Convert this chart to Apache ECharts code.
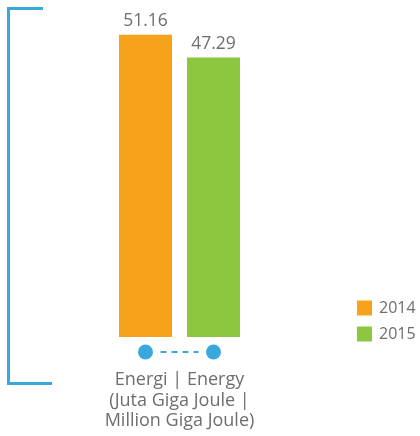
<!DOCTYPE html>
<html>
<head>
<meta charset="utf-8">
<script src="https://cdn.jsdelivr.net/npm/echarts@6/dist/echarts.min.js"></script>
<style>
  html, body { margin: 0; padding: 0; background: #ffffff; }
  #chart { width: 420px; height: 436px; }
</style>
</head>
<body>
<div id="chart"></div>
<script>
// Energy consumption, two reporting years
const categories = ['Energi | Energy\n(Juta Giga Joule |\nMillion Giga Joule)'];
const years = ['2014', '2015'];
const values2014 = [51.16];
const values2015 = [47.29];

const COLORS = ['#F7A21B', '#8DC63F'];
const ACCENT = '#39A9DC';
const TEXT = '#6d6e71';
const FONT = '"Open Sans", "Noto Sans", sans-serif';
const BAR_W = 53;

const chart = echarts.init(document.getElementById('chart'), null, { renderer: 'canvas' });

const labelStyle = {
  show: true,
  position: 'top',
  distance: 5,
  color: TEXT,
  fontSize: 17.5,
  fontFamily: FONT,
  formatter: p => p.value.toFixed(2)
};

chart.setOption({
  animation: false,
  textStyle: { fontFamily: FONT },
  grid: { left: 100, right: 161, top: 12, bottom: 99 },
  legend: {
    orient: 'vertical',
    left: 352,
    top: 295,
    itemWidth: 15,
    itemHeight: 15,
    itemGap: 10,
    icon: 'rect',
    textStyle: { color: TEXT, fontSize: 16, fontFamily: FONT, padding: [0, 0, 0, 2] },
    data: years
  },
  xAxis: {
    type: 'category',
    data: categories,
    axisLine: { show: false },
    axisTick: { show: false },
    axisLabel: {
      color: TEXT,
      fontSize: 18,
      lineHeight: 20.5,
      margin: 33,
      fontFamily: FONT
    }
  },
  yAxis: {
    type: 'value',
    min: 0,
    max: 55,
    show: false,
    splitLine: { show: false }
  },
  series: [
    {
      name: years[0],
      type: 'bar',
      data: values2014,
      barWidth: BAR_W,
      barGap: '28.3%',
      itemStyle: { color: COLORS[0] },
      label: labelStyle
    },
    {
      name: years[1],
      type: 'bar',
      data: values2015,
      barWidth: BAR_W,
      itemStyle: { color: COLORS[1] },
      label: labelStyle
    }
  ]
});

// Bracket on the left and the connector with dots under the bar pair
const base = chart.convertToPixel({ gridIndex: 0 }, [0, 0]);
const cx = base[0];
const dotY = base[1] + 15;
const half = (BAR_W + BAR_W * 0.283) / 2;

chart.setOption({
  graphic: [
    {
      type: 'polyline',
      shape: { points: [[43, 8.5], [8.5, 8.5], [8.5, 383.5], [52, 383.5]] },
      style: { stroke: ACCENT, lineWidth: 3, fill: null }
    },
    {
      type: 'line',
      shape: { x1: cx - half + 15, y1: dotY, x2: cx + half - 15, y2: dotY },
      style: { stroke: ACCENT, lineWidth: 2, lineDash: [6, 5] }
    },
    {
      type: 'circle',
      shape: { cx: cx - half, cy: dotY, r: 7.5 },
      style: { fill: ACCENT }
    },
    {
      type: 'circle',
      shape: { cx: cx + half, cy: dotY, r: 7.5 },
      style: { fill: ACCENT }
    }
  ]
});
</script>
</body>
</html>
